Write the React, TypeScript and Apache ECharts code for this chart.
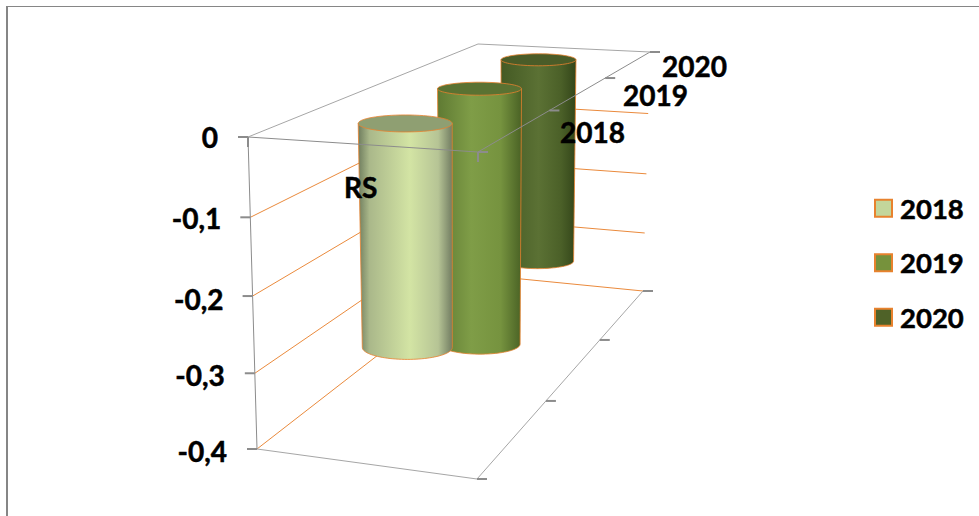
import React, { useEffect, useRef } from "react";
import * as echarts from "echarts";

const CATEGORIES = ["RS"];
const YEARS = ["2018", "2019", "2020"];
const VALUES_2018 = [-0.295];
const VALUES_2019 = [-0.378];
const VALUES_2020 = [-0.326];
const TICK_VALUES = [0, -0.1, -0.2, -0.3, -0.4];
const TICK_LABELS = ["0", "-0,1", "-0,2", "-0,3", "-0,4"];

const FONT = { fontFamily: "Lato", fontWeight: "bold" as const, fontSize: 28, fill: "#000", stroke: "#000", lineWidth: 0.5 };
const ORANGE = "#ea8a3c";
const EDGE = "#e8822e";
const GRAY = "#8c8c8c";

// Corners of the 3D box, as [x, y] on the page.
const FRONT = { tl: [248, 137], tr: [478, 152], bl: [257, 449], br: [477, 479] };
const BACK = { tl: [478, 44], tr: [650, 52], bl: [481, 275], br: [643, 291] };
const PLOT = { left: 248, top: 137, width: 230, height: 312 };

const warp = (v: number, k: number) => (v * k) / (1 + (k - 1) * v);
const mix = (a: number[], b: number[], s: number) => [a[0] + (b[0] - a[0]) * s, a[1] + (b[1] - a[1]) * s];

// Perspective-like projection: u across the box, t down it, d into it.
function project(u: number, t: number, d: number) {
  const tw = warp(t, 1.04);
  const dw = warp(d, 1.42);
  const f = mix(mix(FRONT.tl, FRONT.tr, u), mix(FRONT.bl, FRONT.br, u), tw);
  const b = mix(mix(BACK.tl, BACK.tr, u), mix(BACK.bl, BACK.br, u), tw);
  return mix(f, b, dw);
}

const tOf = (api: any, v: number) => (api.coord([0, v])[1] - PLOT.top) / PLOT.height;

const BAR_U = 0.485;
const ROWS = [
  { d: 1 / 6, dx: 1, dy: 0.5, rxTop: 47, ryTop: 8.5, rxBot: 45, ryBot: 12, body: [[0, "#6f7d5e"], [0.12, "#aab88a"], [0.55, "#d3e4a4"], [0.85, "#b6c495"], [1, "#727d62"]], cap: "#8f9f72" },
  { d: 1 / 2, dx: 1.5, dy: 1, rxTop: 42, ryTop: 6.5, rxBot: 40, ryBot: 10, body: [[0, "#5f7a33"], [0.4, "#7f9d47"], [0.75, "#76933f"], [1, "#4a6225"]], cap: "#5a7232" },
  { d: 5 / 6, dx: 2, dy: 0, rxTop: 37.5, ryTop: 6, rxBot: 36, ryBot: 7.5, body: [[0, "#445a24"], [0.5, "#5b7134"], [0.8, "#4b6028"], [1, "#334519"]], cap: "#4a5c28" },
];

function line(a: number[], b: number[], stroke: string, lineWidth = 1) {
  return { type: "line", shape: { x1: a[0], y1: a[1], x2: b[0], y2: b[1] }, style: { stroke, lineWidth, fill: null } };
}

function renderWalls(_: any, api: any) {
  const children = TICK_VALUES.filter((v) => v !== 0).map((v) => {
    const t = tOf(api, v);
    return {
      type: "polyline",
      shape: { points: [project(0, t, 0), project(0, t, 1), project(1, t, 1)] },
      style: { stroke: ORANGE, lineWidth: 1, fill: null },
    };
  });
  return { type: "group", children };
}

function cylinder(rowIndex: number) {
  return (_: any, api: any) => {
    const row = ROWS[rowIndex];
    const shift = (p: number[]) => [p[0] + row.dx, p[1] + row.dy];
    const top = shift(project(BAR_U, tOf(api, 0), row.d));
    const bot = shift(project(BAR_U, tOf(api, api.value(1)), row.d));
    const arc: number[][] = [];
    for (let i = 0; i <= 48; i++) {
      const a = (Math.PI * i) / 48;
      arc.push([bot[0] + row.rxBot * Math.cos(a), bot[1] + row.ryBot * Math.sin(a)]);
    }
    const tl = [top[0] - row.rxTop, top[1]];
    const tr = [top[0] + row.rxTop, top[1]];
    const fill = new echarts.graphic.LinearGradient(0, 0, 1, 0, row.body.map(([offset, color]) => ({ offset, color })) as any);
    return {
      type: "group",
      children: [
        { type: "polygon", shape: { points: [tr, ...arc, tl] }, style: { fill, stroke: EDGE, lineWidth: 0.8 } },
        { type: "ellipse", shape: { cx: top[0], cy: top[1], rx: row.rxTop, ry: row.ryTop }, style: { fill: row.cap, stroke: EDGE, lineWidth: 0.8 } },
      ],
    };
  };
}

const TICK_LABEL_OFFSETS = [[-30, 0], [-29, 1], [-29, 3], [-30, 2], [-30, 2]];
const YEAR_LABEL_POS = [[560, 132], [623, 95], [662, 66]];
const CATEGORY_LABEL_POS = [344, 187];

function renderFrame(_: any, api: any) {
  const children: any[] = [];
  const t0 = tOf(api, 0);
  const t1 = tOf(api, -0.4);
  const c = (u: number, t: number, d: number) => project(u, t, d);
  // Top plane (the value axis crosses at zero) and the floor.
  children.push(line(c(0, t0, 0), c(1, t0, 0), GRAY));
  children.push(line(c(1, t0, 0), c(1, t0, 1), GRAY));
  children.push(line(c(1, t0, 1), c(0, t0, 1), "#a6a6a6"));
  children.push(line(c(0, t0, 1), c(0, t0, 0), "#a6a6a6"));
  children.push(line(c(0, t0, 0), c(0, t1, 0), GRAY));
  children.push(line(c(0, t1, 0), c(1, t1, 0), "#a6a6a6"));
  children.push(line(c(1, t1, 0), c(1, t1, 1), "#a6a6a6"));
  TICK_VALUES.forEach((v, i) => {
    const p = c(0, tOf(api, v), 0);
    children.push(line([p[0] - 10, p[1]], p, GRAY, 2));
    children.push({
      type: "text",
      style: { ...FONT, text: TICK_LABELS[i], x: p[0] + TICK_LABEL_OFFSETS[i][0], y: p[1] + TICK_LABEL_OFFSETS[i][1], align: "right", verticalAlign: "middle" },
    });
  });
  for (let i = 0; i <= YEARS.length; i++) {
    const d = i / YEARS.length;
    for (const t of [t0, t1]) {
      const p = c(1, t, d);
      children.push(line(p, [p[0] + 10, p[1]], GRAY, 2));
    }
  }
  const a = c(0, t0, 0);
  const b = c(1, t0, 0);
  children.push(line(a, [a[0], a[1] + 10], GRAY, 2));
  children.push(line(b, [b[0], b[1] + 10], GRAY, 2));
  YEARS.forEach((y, i) => {
    children.push({
      type: "text",
      style: { ...FONT, text: y, x: YEAR_LABEL_POS[i][0], y: YEAR_LABEL_POS[i][1], align: "left", verticalAlign: "middle" },
    });
  });
  children.push({
    type: "text",
    style: { ...FONT, text: CATEGORIES[0], x: CATEGORY_LABEL_POS[0], y: CATEGORY_LABEL_POS[1], align: "left", verticalAlign: "middle" },
  });
  return { type: "group", children };
}

const LEGEND_FILLS = ["#c3d69b", "#76923c", "#4f6228"];

export default function App() {
  const ref = useRef<HTMLDivElement>(null);
  useEffect(() => {
    const chart = echarts.init(ref.current!, undefined, { renderer: "svg" });
    const values = [VALUES_2018, VALUES_2019, VALUES_2020];
    chart.setOption({
      animation: false,
      backgroundColor: "#fff",
      grid: { ...PLOT, containLabel: false },
      xAxis: { type: "category", data: CATEGORIES, show: false },
      yAxis: { type: "value", min: -0.4, max: 0, interval: 0.1, show: false },
      legend: {
        orient: "vertical",
        left: 869,
        top: 189,
        itemWidth: 17,
        itemHeight: 17,
        itemGap: 26,
        selectedMode: false,
        icon: "rect",
        textStyle: {
          fontFamily: "Lato",
          fontWeight: "bold",
          fontSize: 27.5,
          color: "#000",
          textBorderColor: "#000",
          textBorderWidth: 0.5,
          padding: [0, 0, 5, 3],
        },
        data: YEARS.map((name, i) => ({
          name,
          itemStyle: { color: LEGEND_FILLS[i], borderColor: EDGE, borderWidth: 2 },
        })),
      },
      graphic: [
        { type: "line", silent: true, shape: { x1: 7, y1: 6.5, x2: 979, y2: 6.5 }, style: { stroke: "#868686", lineWidth: 1 } },
        { type: "line", silent: true, shape: { x1: 7, y1: 6, x2: 7, y2: 516 }, style: { stroke: "#868686", lineWidth: 2 } },
      ],
      series: [
        { type: "custom", name: "walls", z: 1, silent: true, clip: false, data: [[CATEGORIES[0], 0]], renderItem: renderWalls },
        ...[2, 1, 0].map((i) => ({
          type: "custom",
          name: YEARS[i],
          z: 4 - i,
          silent: true,
          clip: false,
          itemStyle: { color: LEGEND_FILLS[i] },
          data: values[i].map((v, j) => [CATEGORIES[j], v]),
          renderItem: cylinder(i),
        })),
        { type: "custom", name: "frame", z: 9, silent: true, clip: false, data: [[CATEGORIES[0], 0]], renderItem: renderFrame },
      ],
    });
    return () => chart.dispose();
  }, []);
  return <div ref={ref} style={{ position: "fixed", left: 0, top: 0, width: 979, height: 516 }} />;
}
